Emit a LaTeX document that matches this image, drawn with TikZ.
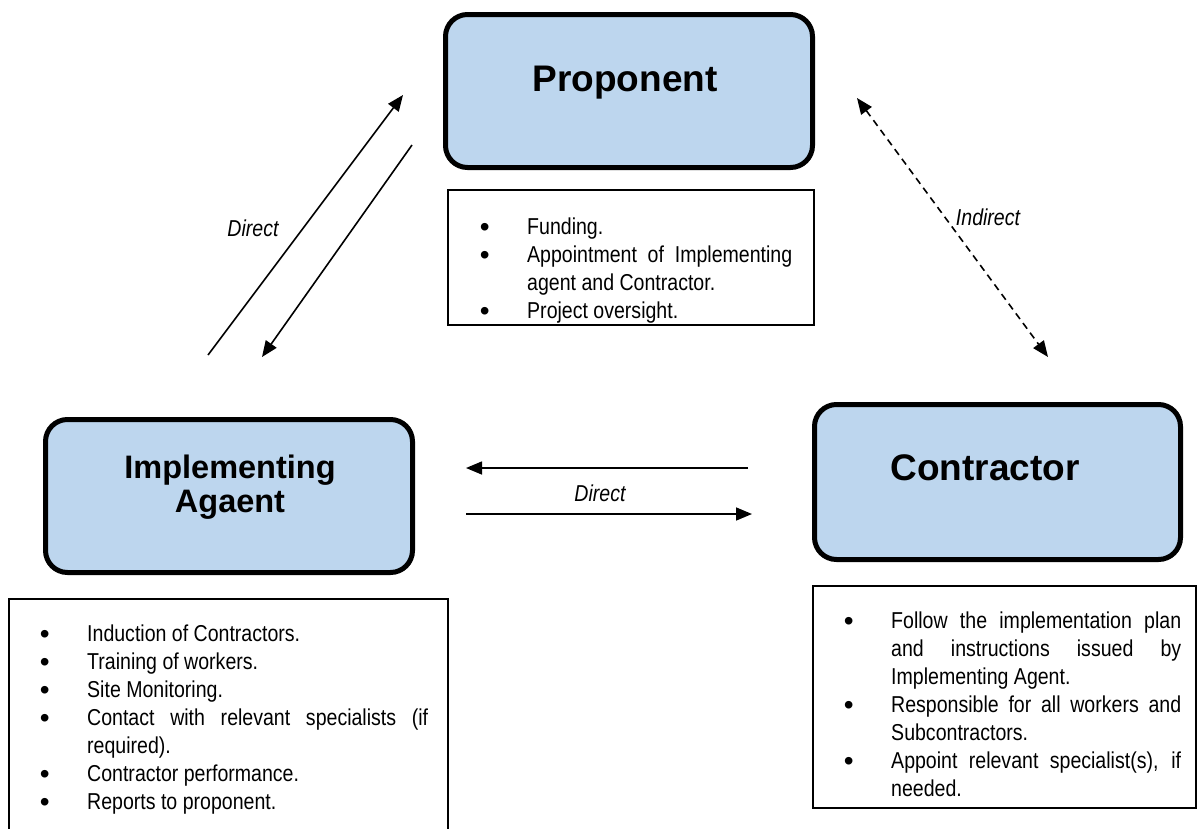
\documentclass[tikz,border=0pt]{standalone}
\usepackage{fontspec}
\setmainfont{Liberation Sans}
\newfontfamily\nf[FakeStretch=0.85]{Liberation Sans}
\newfontfamily\bulletfont{Liberation Sans}
\usetikzlibrary{arrows.meta}
\definecolor{boxblue}{RGB}{189,214,238}
\newcommand\bitem{\par\noindent\strut\llap{\raisebox{-1.5pt}{\bulletfont\fontsize{28}{28}\selectfont\textbullet}\hspace{37.5pt}}}
\tikzset{
  rbox/.style={draw, line width=5pt, rounded corners=22pt, fill=boxblue, inner sep=0pt},
  lbox/.style={draw, line width=1.4pt, inner sep=0pt},
  ttl/.style={font=\fontsize{37}{40}\selectfont\bfseries, inner sep=0pt, anchor=base},
  ttls/.style={font=\fontsize{32.5}{34}\selectfont\bfseries, inner sep=0pt, anchor=base},
  btext/.style={font=\nf\fontsize{23}{28}\selectfont, inner sep=0pt, anchor=north west, align=justify},
  lbl/.style={font=\nf\itshape\fontsize{23}{26}\selectfont, inner sep=0pt},
  arr/.style={line width=1.6pt, -{Triangle[length=16pt,width=13pt]}},
  darr/.style={line width=1.6pt, dash pattern=on 7pt off 5pt, {Triangle[length=16pt,width=13pt]}-{Triangle[length=16pt,width=13pt]}},
}
\begin{document}
\begin{tikzpicture}[x=1pt,y=-1pt]
\useasboundingbox (0,0) rectangle (1197,828);
\clip (0,0) rectangle (1197,828);
% main boxes
\node[rbox, minimum width=367pt, minimum height=153pt] (prop) at (629,91) {};
\node[ttl] (propt) at (625,91) {Proponent};
\node[rbox, minimum width=367pt, minimum height=153pt] (ia) at (229,496) {};
\node[ttls] (iat1) at (230,478) {Implementing};
\node[ttls] (iat2) at (230,512) {Agaent};
\node[rbox, minimum width=366pt, minimum height=155pt] (con) at (997.5,482) {};
\node[ttl] (cont) at (985,480) {Contractor};
% bullet boxes
\node[lbox, minimum width=366pt, minimum height=135pt] (propb) at (631,257.5) {};
\node[btext, text width=265pt] (propx) at (527,206.4) {%
\bitem Funding.
\bitem Appointment of Implementing\linebreak agent and Contractor.
\bitem Project oversight.};
\node[lbox, minimum width=439pt, minimum height=251pt] (iab) at (228.5,724.5) {};
\node[btext, text width=341pt] (iax) at (87,613.4) {%
\bitem Induction of Contractors.
\bitem Training of workers.
\bitem Site Monitoring.
\bitem Contact with relevant specialists (if\linebreak required).
\bitem Contractor performance.
\bitem Reports to proponent.};
\node[lbox, minimum width=383pt, minimum height=222pt] (conb) at (1004.5,697) {};
\node[btext, text width=290pt] (conx) at (891,600.4) {%
\bitem Follow the implementation plan\linebreak and instructions issued by\linebreak Implementing Agent.
\bitem Responsible for all workers and\linebreak Subcontractors.
\bitem Appoint relevant specialist(s), if\linebreak needed.};
% connector end points
\coordinate (a1s) at (208,355);
\coordinate (a1e) at (403,95);
\coordinate (a2s) at (412,145);
\coordinate (a2e) at (262,357);
\coordinate (d1) at (857,98);
\coordinate (d2) at (1048,357);
\coordinate (h1s) at (748,468);
\coordinate (h1e) at (466,468);
\coordinate (h2s) at (466,514);
\coordinate (h2e) at (752,514);
\draw[arr] (a1s) -- (a1e);
\draw[arr] (a2s) -- (a2e);
\draw[darr] (d1) -- (d2);
\draw[arr] (h1s) -- (h1e);
\draw[arr] (h2s) -- (h2e);
\node[lbl] (l1) at (253,228) {Direct};
\node[lbl] (l2) at (988,217) {Indirect};
\node[lbl] (l3) at (600,493) {Direct};
\end{tikzpicture}
\end{document}
